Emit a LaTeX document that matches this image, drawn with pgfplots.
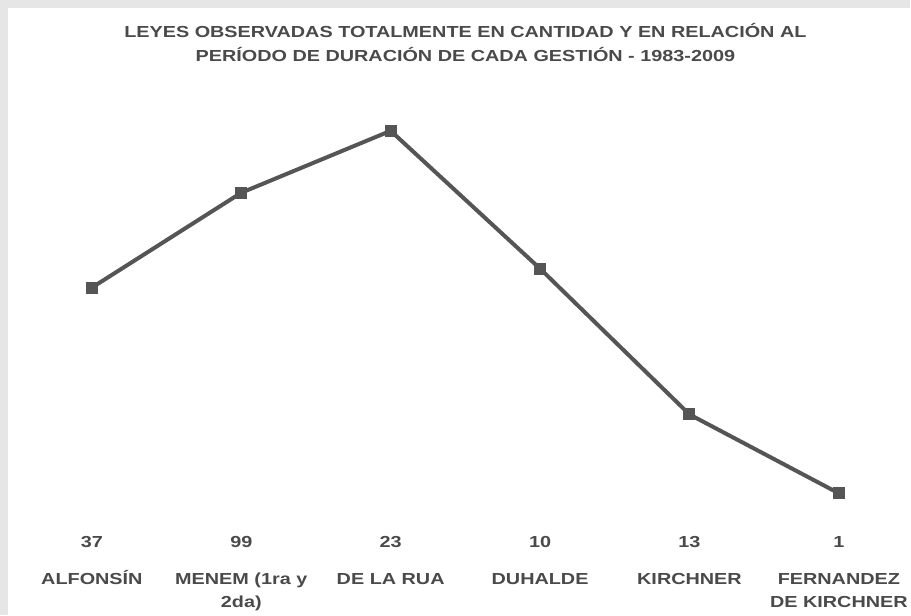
\documentclass[border=0pt]{standalone}
\usepackage{pgfplots}
\pgfplotsset{compat=1.18}
\usepackage{fontspec}
\setmainfont{Liberation Sans}
\newfontfamily\widesans[FakeStretch=1.24]{Liberation Sans}
\definecolor{linegray}{HTML}{555555}
\definecolor{txtgray}{HTML}{4A4A4A}
\definecolor{framegray}{HTML}{E6E6E6}
\begin{document}
\begin{tikzpicture}[x=1pt,y=1pt]
  % frame and background
  \fill[framegray] (0,0) rectangle (911,616);
  \fill[white] (8,0) rectangle (911,608);
  % title, one node per line
  \node[text=txtgray, anchor=base, font=\widesans\fontsize{16}{25}\selectfont\bfseries]
    at (466,578.5) {LEYES OBSERVADAS TOTALMENTE EN CANTIDAD Y EN RELACIÓN AL};
  \node[text=txtgray, anchor=base, font=\widesans\fontsize{16}{25}\selectfont\bfseries]
    at (466,554) {PERÍODO DE DURACIÓN DE CADA GESTIÓN - 1983-2009};
  \begin{axis}[
      at={(92pt,91pt)}, anchor=south west,
      scale only axis, width=748pt, height=425pt,
      xmin=0, xmax=5, ymin=-25, ymax=400,
      axis line style={draw=none},
      major tick length=0pt,
      ytick=\empty,
      xtick={0,1,2,3,4,5},
      xticklabels={{37\\[14pt]ALFONSÍN},{99\\[14pt]MENEM (1ra y\\2da)},{23\\[14pt]DE LA RUA},
                   {10\\[14pt]DUHALDE},{13\\[14pt]KIRCHNER},{1\\[14pt]FERNANDEZ\\DE KIRCHNER}},
      xticklabel style={align=center, anchor=north, text=txtgray,
                        font=\widesans\fontsize{16}{23}\selectfont\bfseries, yshift=-9pt},
      clip=false,
    ]
    \addplot[linegray, line width=4pt, mark=square*, mark size=5.5pt,
             mark options={solid, fill=linegray, draw=linegray, line width=0pt}]
      coordinates {
        (0, 212)
        (1, 307)
        (2, 369)
        (3, 231)
        (4, 85)
        (5, 6)
      };
  \end{axis}
\end{tikzpicture}
\end{document}
